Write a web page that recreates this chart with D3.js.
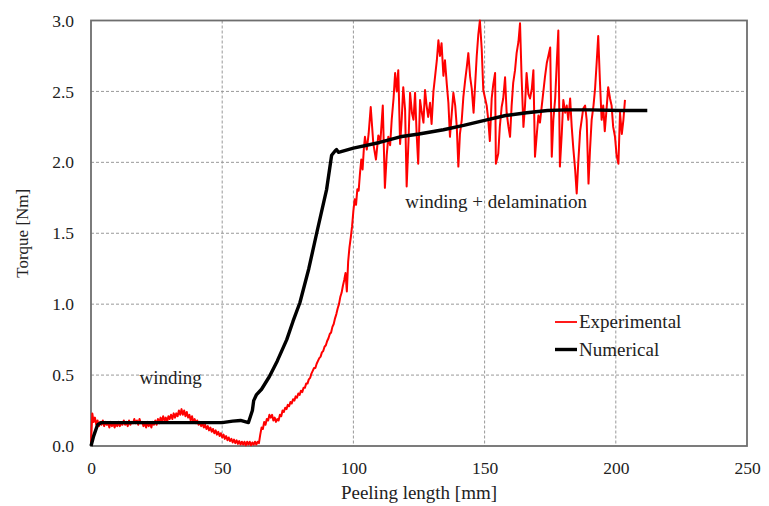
<!DOCTYPE html>
<html>
<head>
<meta charset="utf-8">
<script src="https://cdn.jsdelivr.net/npm/d3@7"></script>
<style>
  body { margin: 0; background: #fff; }
</style>
</head>
<body>
<svg id="graph" width="769" height="506"></svg>
<script>
// tick labels
const xTicks = [0, 50, 100, 150, 200, 250]
const yTicks = [0, 0.5, 1.0, 1.5, 2.0, 2.5, 3.0]

// numerical (black) curve
const numLength = [0, 1, 2.5, 4, 20, 40, 50, 54, 57, 60, 61.5, 62, 63, 65, 68, 71, 74.6, 77, 79.6, 83, 86, 89.8, 91.7, 93, 93.6, 94.3,
  100, 110, 117.8, 125, 134.3, 142, 150.8, 158, 166, 174, 181.3, 190, 201.6, 212]
const numTorque = [0, 0.07, 0.15, 0.165, 0.165, 0.165, 0.165, 0.175, 0.18, 0.165, 0.25, 0.32, 0.36, 0.4, 0.49, 0.6, 0.75, 0.88, 1.01, 1.25, 1.5, 1.81, 2.05, 2.08, 2.09, 2.07,
  2.1, 2.14, 2.18, 2.2, 2.23, 2.26, 2.3, 2.33, 2.35, 2.365, 2.37, 2.37, 2.365, 2.365]

// experimental (red) curve
const expLength = [0, 0.5, 1, 1.5, 2, 2.5, 3, 3.5, 4, 4.5, 5, 5.5, 6, 6.5, 7, 7.5, 8, 8.5, 9, 9.5,
  10, 10.5, 11, 11.5, 12, 12.5, 13, 13.5, 14, 14.5, 15, 15.5, 16, 16.5, 17, 17.5, 18, 18.5, 19, 19.5,
  20, 20.5, 21, 21.5, 22, 22.5, 23, 23.5, 24, 24.5, 25, 25.5, 26, 26.5, 27, 27.5, 28, 28.5, 29, 29.5,
  30, 30.5, 31, 31.5, 32, 32.5, 33, 33.5, 34, 34.5, 35, 35.5, 36, 36.5, 37, 37.5, 38, 38.5, 39, 39.5,
  40, 40.5, 41, 41.5, 42, 42.5, 43, 43.5, 44, 44.5, 45, 45.5, 46, 46.5, 47, 47.5, 48, 48.5, 49, 49.5,
  50, 50.5, 51, 51.5, 52, 52.5, 53, 53.5, 54, 54.5, 55, 55.5, 56, 56.5, 57, 57.5, 58, 58.5, 59, 59.5,
  60, 60.5, 61, 61.5, 62, 62.5, 63, 63.5, 64, 64.5, 65, 65.5, 66, 66.5, 67, 67.5, 68, 68.5, 69, 69.5,
  70, 70.5, 71, 71.5, 72, 72.5, 73, 73.5, 74, 74.5, 75, 75.5, 76, 76.5, 77, 77.5, 78, 78.5, 79, 79.5,
  80, 80.5, 81, 81.5, 82, 82.5, 83, 83.5, 84, 84.5, 85, 85.5, 86, 86.5, 87, 87.5, 88, 88.5, 89, 89.5,
  90, 90.5, 91, 91.5, 92, 92.5, 93, 93.5, 94, 94.5, 95, 95.5, 96, 96.5, 97, 97.5, 98, 98.5, 99, 99.5,
  100, 100.5, 101, 101.5, 102, 102.5, 103, 103.5, 104, 104.4, 105.1, 105.8, 106.6, 107.6, 108.6, 109.5,
  110.3, 111.2, 112, 112.7, 113.3, 114, 114.6, 115.3, 115.9, 116.5, 117.1, 117.8, 118.4, 119, 119.7,
  120.3, 121, 121.6, 122.3, 122.9, 123.5, 124.1, 124.7, 125.4, 126, 126.7, 127.3, 127.9, 128.5, 129.2, 129.8,
  130.5, 131.1, 131.8, 132.4, 133, 133.6, 134.3, 134.9, 135.6, 136.2, 136.8, 137.5, 138.1, 138.8, 139.4,
  140, 140.6, 141.3, 141.9, 142.6, 143.2, 143.8, 144.5, 145.1, 145.8, 146.4, 147, 147.6, 148.2, 148.9, 149.5,
  150.2, 150.8, 151.4, 152, 152.7, 153.3, 154, 154.3, 155.2, 155.8, 156.5, 157.1, 157.8, 158.4, 159.1, 159.7,
  160.3, 160.9, 161.6, 162.2, 162.9, 163.5, 164.1, 164.8, 165.4, 166, 166.7, 167.3, 168, 168.6, 169.2, 169.9,
  170.5, 171.1, 171.8, 172.4, 173, 173.7, 174.3, 175, 175.6, 176.2, 176.9, 177.5, 178.1, 178.7, 179.4,
  180, 180.7, 181.3, 181.9, 182.6, 183.2, 183.8, 184.5, 185.1, 185.7, 186.4, 187, 187.6, 188.3, 188.9, 189.6,
  190.2, 190.8, 191.5, 192.1, 192.7, 193.3, 194, 194.6, 195.2, 195.8, 196.5, 197.1, 197.8, 198.4, 199, 199.7,
  200.3, 201, 201.6, 202.3, 202.9, 203.5]
const expTorque = [0.02, 0.23, 0.17, 0.20, 0.15, 0.18, 0.14, 0.17, 0.15, 0.18, 0.14, 0.17, 0.15, 0.16, 0.13, 0.17, 0.14, 0.16, 0.13, 0.16,
  0.14, 0.17, 0.14, 0.16, 0.15, 0.18, 0.15, 0.17, 0.14, 0.18, 0.15, 0.17, 0.16, 0.19, 0.16, 0.18, 0.15, 0.19, 0.16, 0.17,
  0.14, 0.16, 0.13, 0.17, 0.14, 0.16, 0.13, 0.17, 0.15, 0.18, 0.15, 0.19, 0.16, 0.20, 0.17, 0.21, 0.18, 0.20, 0.17, 0.21,
  0.19, 0.22, 0.19, 0.23, 0.20, 0.23, 0.21, 0.25, 0.22, 0.26, 0.22, 0.25, 0.21, 0.24, 0.20, 0.22, 0.18, 0.21, 0.17, 0.19,
  0.16, 0.18, 0.15, 0.17, 0.14, 0.16, 0.13, 0.15, 0.12, 0.14, 0.11, 0.13, 0.10, 0.12, 0.09, 0.11, 0.08, 0.10, 0.07, 0.09,
  0.06, 0.08, 0.05, 0.07, 0.04, 0.06, 0.035, 0.05, 0.025, 0.045, 0.02, 0.04, 0.015, 0.035, 0.01, 0.03, 0.01, 0.03, 0.005, 0.03,
  0.01, 0.03, 0.005, 0.025, 0.01, 0.03, 0.01, 0.03, 0.02, 0.08, 0.13, 0.12, 0.17, 0.15, 0.19, 0.18, 0.22, 0.20, 0.22, 0.18,
  0.20, 0.17, 0.19, 0.18, 0.22, 0.21, 0.25, 0.24, 0.27, 0.26, 0.29, 0.28, 0.31, 0.30, 0.33, 0.32, 0.35, 0.34, 0.37, 0.36,
  0.39, 0.38, 0.41, 0.41, 0.44, 0.44, 0.47, 0.48, 0.51, 0.53, 0.55, 0.55, 0.58, 0.60, 0.62, 0.63, 0.66, 0.67, 0.70, 0.71,
  0.74, 0.76, 0.79, 0.80, 0.84, 0.86, 0.90, 0.93, 0.97, 1.00, 1.05, 1.08, 1.13, 1.17, 1.22, 1.09, 1.30, 1.40, 1.47, 1.55,
  1.66, 1.74, 1.70, 1.81, 1.80, 1.92, 2.02, 1.95, 2.10, 2.18, 2.09, 2.20, 2.39, 2.13, 2.02, 2.19,
  2.15, 2.40, 1.82, 2.05, 2.18, 2.12, 2.30, 2.45, 2.63, 2.50, 2.65, 2.13, 2.30, 2.53, 2.37,
  1.83, 2.15, 2.49, 2.35, 2.30, 2.49, 2.20, 1.99, 2.44, 2.36, 2.28, 2.51, 2.40, 2.32, 2.42, 2.27,
  2.50, 2.60, 2.72, 2.86, 2.75, 2.84, 2.61, 2.72, 2.55, 2.42, 2.18, 2.35, 2.49, 2.40, 2.25,
  1.97, 2.20, 2.30, 2.46, 2.58, 2.67, 2.77, 2.60, 2.52, 2.35, 2.55, 2.75, 2.90, 3.00, 2.80, 2.51,
  2.45, 2.40, 2.30, 2.15, 2.45, 2.55, 2.63, 1.99, 2.06, 2.25, 2.39, 2.45, 2.60, 2.35, 2.25, 2.18,
  2.40, 2.56, 2.65, 2.77, 2.85, 2.98, 2.60, 2.25, 2.40, 2.63, 2.48, 2.45, 2.52, 2.65, 2.04, 2.20,
  2.33, 2.28, 2.40, 2.50, 2.60, 2.70, 2.75, 2.81, 2.04, 2.30, 2.45, 2.70, 2.93, 1.97, 2.20,
  2.44, 2.35, 2.40, 2.30, 2.45, 2.25, 2.10, 1.95, 1.78, 2.00, 2.22, 2.30, 2.38, 2.40, 2.30, 1.85,
  2.10, 2.30, 2.40, 2.52, 2.70, 2.89, 2.55, 2.30, 2.40, 2.22, 2.38, 2.53, 2.45, 2.40, 2.25, 2.18,
  2.05, 1.99, 2.35, 2.20, 2.30, 2.44]

const FONT = "'Liberation Serif', 'Times New Roman', Times, 'DejaVu Serif', serif"

const svg = d3.select('#graph').attr('font-family', FONT),
    W = +svg.attr('width'),
    H = +svg.attr('height')

const margin = {top: 20.5, right: 22, bottom: 60, left: 91}
const w = W - margin.left - margin.right,
      h = H - margin.top - margin.bottom

svg.append('rect').attr('width', W).attr('height', H).attr('fill', '#fff')

const x = d3.scaleLinear().domain([0, 250]).range([0, w])
const y = d3.scaleLinear().domain([0, 3]).range([h, 0])

const g = svg.append('g').attr('transform', `translate(${margin.left},${margin.top})`)

// grid
g.append('g').selectAll('line').data(xTicks.slice(1, -1)).enter().append('line')
  .attr('x1', d => x(d)).attr('x2', d => x(d)).attr('y1', 0).attr('y2', h)
  .attr('stroke', '#999').attr('stroke-width', 1).attr('stroke-dasharray', '3,2')
g.append('g').selectAll('line').data(yTicks.slice(1, -1)).enter().append('line')
  .attr('x1', 0).attr('x2', w).attr('y1', d => y(d)).attr('y2', d => y(d))
  .attr('stroke', '#999').attr('stroke-width', 1).attr('stroke-dasharray', '3,2')

// axes (labels only)
const xAxis = g.append('g').attr('transform', `translate(0,${h})`)
  .call(d3.axisBottom(x).tickValues(xTicks).tickSize(0).tickPadding(16).tickFormat(d3.format('d')))
const yAxis = g.append('g')
  .call(d3.axisLeft(y).tickValues(yTicks).tickSize(0).tickPadding(17).tickFormat(d3.format('.1f')))
;[xAxis, yAxis].forEach(a => {
  a.attr('font-family', FONT).attr('font-size', 17.5)
  a.select('.domain').remove()
  a.selectAll('text').attr('fill', '#222')
})

// plot frame
g.append('rect').attr('width', w).attr('height', h)
  .attr('fill', 'none').attr('stroke', '#6e6e6e').attr('stroke-width', 1.8)

const line = d3.line().x(d => x(d[0])).y(d => y(d[1]))

const expData = expLength.map((v, i) => [v, expTorque[i]])
const numData = numLength.map((v, i) => [v, numTorque[i]])

g.append('path').datum(expData).attr('d', line)
  .attr('fill', 'none').attr('stroke', '#ff0000').attr('stroke-width', 2).attr('stroke-linejoin', 'round')
g.append('path').datum(numData).attr('d', line)
  .attr('fill', 'none').attr('stroke', '#000').attr('stroke-width', 3.4).attr('stroke-linejoin', 'round')

// annotations
g.append('text').attr('x', x(18.5)).attr('y', y(0.2) - 34).text('winding')
  .attr('font-size', 19).attr('fill', '#222')
g.append('text').attr('x', x(119.8)).attr('y', y(1.7) + 3).text('winding + delamination')
  .attr('font-size', 19).attr('fill', '#222')

// legend
const legend = [{name: 'Experimental', color: '#ff0000', sw: 1.8}, {name: 'Numerical', color: '#000', sw: 3.4}]
const lg = svg.append('g').attr('transform', 'translate(555,322)')
legend.forEach((d, i) => {
  lg.append('line').attr('x1', 0).attr('x2', 22).attr('y1', i * 27.5).attr('y2', i * 27.5)
    .attr('stroke', d.color).attr('stroke-width', d.sw)
  lg.append('text').attr('x', 24).attr('y', i * 27.5 + 6).text(d.name)
    .attr('font-size', 19).attr('fill', '#222')
})

// axis titles
svg.append('text').attr('x', margin.left + w / 2).attr('y', 499).attr('text-anchor', 'middle')
  .text('Peeling length [mm]').attr('font-size', 19).attr('fill', '#222')
svg.append('text').attr('transform', `translate(28,${margin.top + h / 2}) rotate(-90)`)
  .attr('text-anchor', 'middle').text('Torque [Nm]').attr('font-size', 17).attr('fill', '#222')
</script>
</body>
</html>
